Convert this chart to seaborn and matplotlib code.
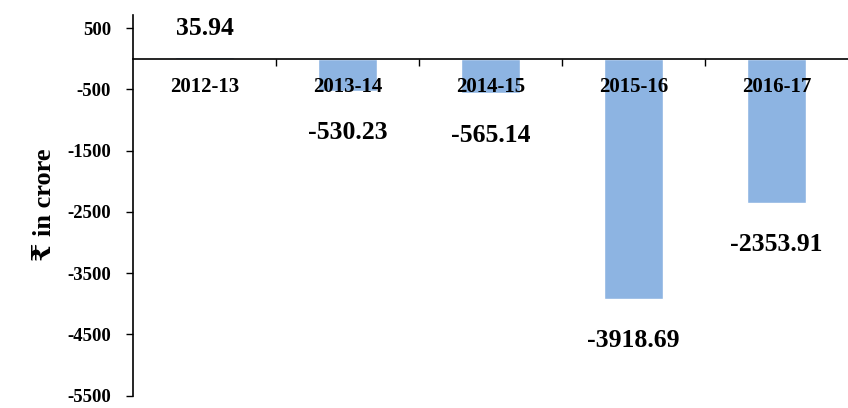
import matplotlib
matplotlib.use("Agg")
import matplotlib.pyplot as plt
import seaborn as sns
import pandas as pd

years = ["2012-13", "2013-14", "2014-15", "2015-16", "2016-17"]
values = [35.94, -530.23, -565.14, -3918.69, -2353.91]
value_labels = ["35.94", "-530.23", "-565.14", "-3918.69", "-2353.91"]
ytick_values = [500, -500, -1500, -2500, -3500, -4500, -5500]

sns.set_style("white")
serif = ["Liberation Serif", "DejaVu Serif", "DejaVu Sans"]
plt.rcParams["font.family"] = serif
plt.rcParams["text.color"] = "black"
plt.rcParams["axes.labelcolor"] = "black"
plt.rcParams["ytick.color"] = "black"
plt.rcParams["xtick.color"] = "black"

df = pd.DataFrame({"year": years, "value": values})

fig = plt.figure(figsize=(8.48, 4.08), dpi=100)
ax = fig.add_axes([0.157, 0.03, 0.843, 0.934])

sns.barplot(data=df, x="year", y="value", color="#8DB4E2", saturation=1,
            width=0.41, ax=ax, zorder=2)

ax.set_xlim(-0.5, 4.5)
ax.set_ylim(-5500, 720)
ax.set_yticks(ytick_values)
ax.set_yticklabels([str(v) for v in ytick_values], fontsize=13.5,
                   fontweight="bold", family=serif, color="black")
ax.tick_params(axis="y", direction="out", length=5, width=1, left=True,
               pad=11, color="black")

# x axis at zero with boundary ticks
ax.spines["bottom"].set_position(("data", 0))
ax.spines["top"].set_visible(False)
ax.spines["right"].set_visible(False)
for s in ["left", "bottom"]:
    ax.spines[s].set_color("black")
    ax.spines[s].set_linewidth(1.2)
ax.set_xticks([0.5, 1.5, 2.5, 3.5])
ax.set_xticklabels([])
ax.tick_params(axis="x", direction="out", length=5, width=1, bottom=True,
               color="black")
ax.set_xlabel("")

for i, yr in enumerate(years):
    ax.annotate(yr, xy=(i, 0), xytext=(0, -20), textcoords="offset points",
                ha="center", va="center", fontsize=15, fontweight="bold",
                family=serif, color="black", zorder=3)

for i, (v, lab) in enumerate(zip(values, value_labels)):
    off = 20 if v >= 0 else -30
    ax.annotate(lab, xy=(i, v), xytext=(0, off), textcoords="offset points",
                ha="center", va="center", fontsize=18.5, fontweight="bold",
                family=serif, color="black")

ax.set_ylabel("₹ in crore", fontsize=19, fontweight="bold", family=serif,
              color="black", labelpad=8)

fig.savefig("out.png", dpi=100)
